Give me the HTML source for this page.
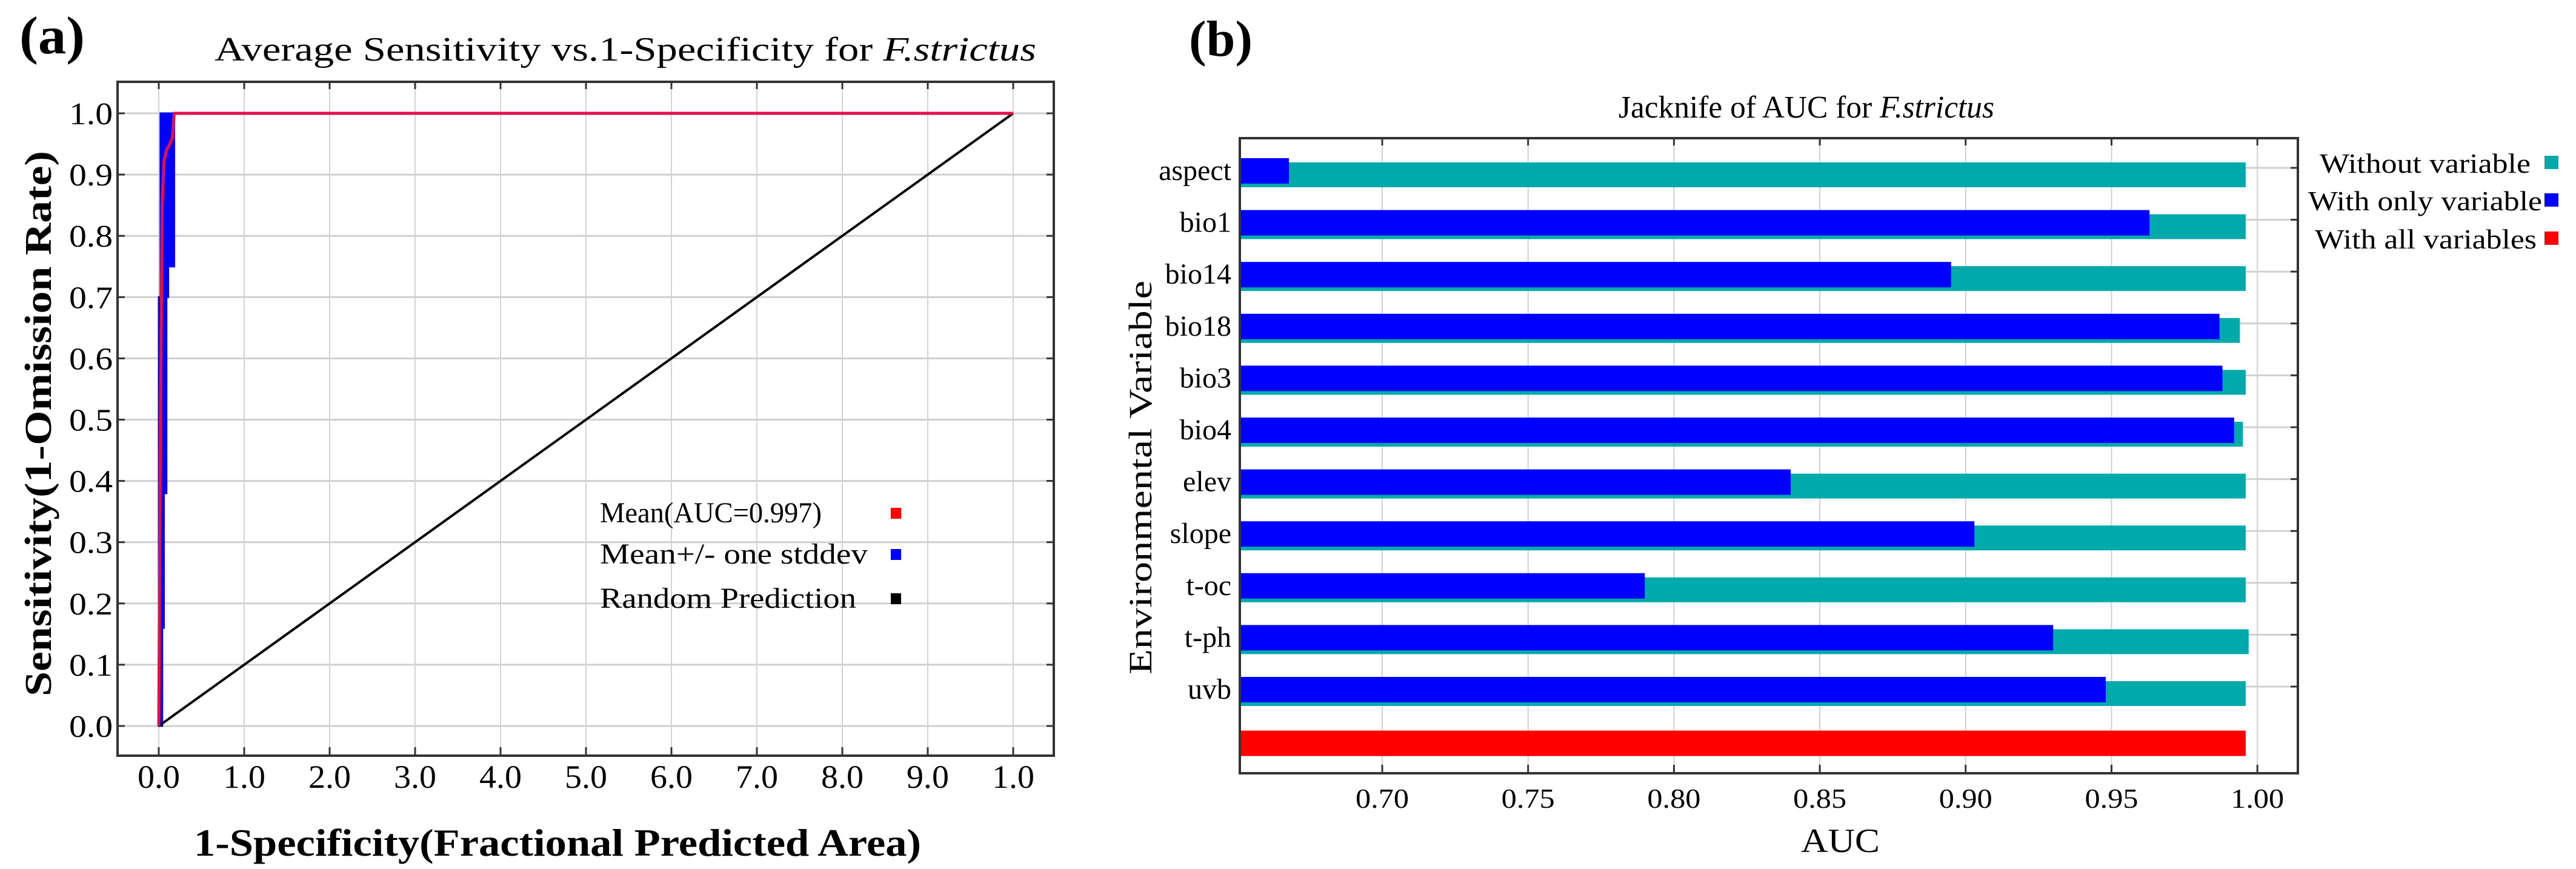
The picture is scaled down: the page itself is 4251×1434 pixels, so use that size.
<!DOCTYPE html>
<html><head><meta charset="utf-8"><style>
html,body{margin:0;padding:0;background:#fff;}
svg{display:block;}
text{font-family:"Liberation Serif",serif;fill:#000;}
</style></head><body>
<svg id="fig" width="4251" height="1434" viewBox="0 0 4251 1434" xmlns="http://www.w3.org/2000/svg">
<g id="pa"></g>
<g id="pb"></g>
</svg>
<script>
// ---------- Panel (a) data ----------
const rocXTickVals = [0,0.1,0.2,0.3,0.4,0.5,0.6,0.7,0.8,0.9,1.0];
const rocXTickLabels = ["0.0","1.0","2.0","3.0","4.0","5.0","6.0","7.0","8.0","9.0","1.0"];
const rocYTickVals = [0,0.1,0.2,0.3,0.4,0.5,0.6,0.7,0.8,0.9,1.0];
const rocYTickLabels = ["0.0","0.1","0.2","0.3","0.4","0.5","0.6","0.7","0.8","0.9","1.0"];
const meanFpr = [0,0.002,0.004,0.006,0.009,0.013,0.016,0.018,1.0];
const meanTpr = [0,0.5,0.85,0.92,0.94,0.95,0.96,1.0,1.0];
const bandTpr = [0,0.16,0.38,0.70,0.75,0.80,1.0];
const bandLeft = [0,0,0,0,0.002,0.002,0.002];
const bandRight = [0.002,0.004,0.006,0.009,0.011,0.018,0.018];
const randFpr = [0,1];
const randTpr = [0,1];

// ---------- Panel (b) data ----------
const vars = ["aspect","bio1","bio14","bio18","bio3","bio4","elev","slope","t-oc","t-ph","uvb"];
const withoutVar = [0.996,0.996,0.996,0.994,0.996,0.995,0.996,0.996,0.996,0.997,0.996];
const withOnly = [0.668,0.963,0.895,0.987,0.988,0.992,0.840,0.903,0.790,0.930,0.948];
const allVars = [0.996];
const aucTickVals = [0.70,0.75,0.80,0.85,0.90,0.95,1.00];
const aucTickLabels = ["0.70","0.75","0.80","0.85","0.90","0.95","1.00"];

const NS="http://www.w3.org/2000/svg";
function mk(parent,tag,attrs,txt){const e=document.createElementNS(NS,tag);for(const k in attrs)e.setAttribute(k,attrs[k]);if(txt!==undefined)e.textContent=txt;parent.appendChild(e);return e;}

// ---------- Panel (a) ----------
const A=document.getElementById('pa');
const ax=v=>262+v*1410;
const ay=v=>1198-v*1011;
const aL=194,aR=1739,aT=135,aB=1247;
let t;
t=mk(A,'text',{x:32,y:88,'font-size':88,'font-weight':'bold',textLength:108,lengthAdjust:'spacingAndGlyphs'},'(a)');


t=mk(A,'text',{x:354,y:100,'font-size':56,textLength:1356,lengthAdjust:'spacingAndGlyphs'});


t.innerHTML='Average Sensitivity vs.1-Specificity for <tspan font-style="italic">F.strictus</tspan>';
rocYTickVals.forEach((v,i)=>{
  let g=mk(A,'line',{x1:aL,x2:aR,y1:ay(v),y2:ay(v),stroke:'#cfcfcf','stroke-width':3});
  
  
  mk(A,'line',{x1:aL,x2:aL+12,y1:ay(v),y2:ay(v),stroke:'#333','stroke-width':3});
  mk(A,'line',{x1:aR-12,x2:aR,y1:ay(v),y2:ay(v),stroke:'#333','stroke-width':3});
  let l=mk(A,'text',{x:186,y:ay(v)+18,'font-size':52,'text-anchor':'end',textLength:72,lengthAdjust:'spacingAndGlyphs'},rocYTickLabels[i]);
  
  
});
rocXTickVals.forEach((v,i)=>{
  let g=mk(A,'line',{x1:ax(v),x2:ax(v),y1:aT,y2:aB,stroke:'#d4d4d4','stroke-width':2});
  
  
  mk(A,'line',{x1:ax(v),x2:ax(v),y1:aT,y2:aT+12,stroke:'#333','stroke-width':3});
  mk(A,'line',{x1:ax(v),x2:ax(v),y1:aB-14,y2:aB,stroke:'#333','stroke-width':3});
  let l=mk(A,'text',{x:ax(v),y:1300,'font-size':54,'text-anchor':'middle',textLength:70,lengthAdjust:'spacingAndGlyphs'},rocXTickLabels[i]);
  
  
});
let pts=[];
bandTpr.forEach((v,i)=>{ if(i>0) pts.push([ax(bandRight[i]),ay(bandTpr[i-1])]); pts.push([ax(bandRight[i]),ay(v)]); });
for(let i=bandTpr.length-1;i>=0;i--){ pts.push([ax(bandLeft[i]),ay(bandTpr[i])]); if(i>0) pts.push([ax(bandLeft[i]),ay(bandTpr[i-1])]); }
t=mk(A,'polygon',{points:pts.map(p=>p.join(',')).join(' '),fill:'#0000ff',stroke:'#0000ff','stroke-width':3});


t=mk(A,'polyline',{points:randFpr.map((v,i)=>ax(v)+','+ay(randTpr[i])).join(' '),fill:'none',stroke:'#000','stroke-width':4});


t=mk(A,'polyline',{points:meanFpr.map((v,i)=>ax(v)+','+ay(meanTpr[i])).join(' '),fill:'none',stroke:'#e0104a','stroke-width':5});


t=mk(A,'rect',{x:aL,y:aT,width:aR-aL,height:aB-aT,fill:'none',stroke:'#333','stroke-width':4});


const legA=[["Mean(AUC=0.997)","#ff0000",862,366],["Mean+/- one stddev","#0000ff",930,442],["Random Prediction","#000000",1003,423]];
legA.forEach(d=>{
  let l=mk(A,'text',{x:990,y:d[2],'font-size':48,textLength:d[3],lengthAdjust:'spacingAndGlyphs'},d[0]);
  
  
  let s=mk(A,'rect',{x:1470,y:d[2]-24,width:17,height:18,fill:d[1]});
  
  
});
t=mk(A,'text',{x:920,y:1412,'font-size':64,'font-weight':'bold','text-anchor':'middle',textLength:1200,lengthAdjust:'spacingAndGlyphs'},'1-Specificity(Fractional Predicted Area)');


t=mk(A,'text',{x:0,y:0,'font-size':62,'font-weight':'bold','text-anchor':'middle',textLength:900,lengthAdjust:'spacingAndGlyphs',transform:'translate(84,699) rotate(-90)'},'Sensitivity(1-Omission Rate)');



// ---------- Panel (b) ----------
const B=document.getElementById('pb');
const bx=v=>2281+(v-0.70)/0.05*240.7;
const rowY=i=>285+i*85.6;
const bL=2046,bR=3792,bT=228,bB=1276;
t=mk(B,'text',{x:1962,y:92,'font-size':84,'font-weight':'bold',textLength:105,lengthAdjust:'spacingAndGlyphs'},'(b)');


t=mk(B,'text',{x:2671,y:194,'font-size':52,textLength:620,lengthAdjust:'spacingAndGlyphs'});


t.innerHTML='Jacknife of AUC for <tspan font-style="italic">F.strictus</tspan>';
aucTickVals.forEach((v,i)=>{
  let g=mk(B,'line',{x1:bx(v),x2:bx(v),y1:bT,y2:bB,stroke:'#d0d0d0','stroke-width':2});
  
  
  mk(B,'line',{x1:bx(v),x2:bx(v),y1:bT,y2:bT+12,stroke:'#333','stroke-width':3});
  mk(B,'line',{x1:bx(v),x2:bx(v),y1:bB-14,y2:bB,stroke:'#333','stroke-width':3});
  let l=mk(B,'text',{x:bx(v),y:1333,'font-size':46,'text-anchor':'middle',textLength:88,lengthAdjust:'spacingAndGlyphs'},aucTickLabels[i]);
  
  
});
vars.forEach((name,i)=>{
  const c=rowY(i);
  let g=mk(B,'line',{x1:bL,x2:bR,y1:c-8,y2:c-8,stroke:'#d0d0d0','stroke-width':3});
  
  
  mk(B,'line',{x1:bR-12,x2:bR,y1:c-8,y2:c-8,stroke:'#333','stroke-width':3});
  let tb=mk(B,'rect',{x:bL,y:c-17,width:bx(withoutVar[i])-bL,height:41,fill:'#00aaaa'});
  
  
  let bb=mk(B,'rect',{x:bL,y:c-24,width:bx(withOnly[i])-bL,height:42,fill:'#0000ff'});
  
  
  let l=mk(B,'text',{x:2032,y:c+12,'font-size':48,'text-anchor':'end'},name);
  
  
});
allVars.forEach((v,i)=>{
  const c=rowY(vars.length+i);
  let r=mk(B,'rect',{x:bL,y:c-21,width:bx(v)-bL,height:42,fill:'#ff0000'});
  
  
});
t=mk(B,'rect',{x:bL,y:bT,width:bR-bL,height:bB-bT,fill:'none',stroke:'#333','stroke-width':4});


t=mk(B,'text',{x:3037,y:1406,'font-size':56,'text-anchor':'middle',textLength:130,lengthAdjust:'spacingAndGlyphs'},'AUC');


t=mk(B,'text',{x:0,y:0,'font-size':54,'text-anchor':'middle',textLength:650,lengthAdjust:'spacingAndGlyphs',transform:'translate(1900,788) rotate(-90)'},'Environmental Variable');


const legB=[["Without variable","#00aaaa",285,3828,348],["With only variable","#0000ff",347,3809,386],["With all variables","#ff0000",410,3820,366]];
legB.forEach(d=>{
  let l=mk(B,'text',{x:d[3],y:d[2],'font-size':46,textLength:d[4],lengthAdjust:'spacingAndGlyphs'},d[0]);
  
  
  let s=mk(B,'rect',{x:4199,y:d[2]-28,width:23,height:22,fill:d[1]});
  
  
});
</script>
</body></html>
